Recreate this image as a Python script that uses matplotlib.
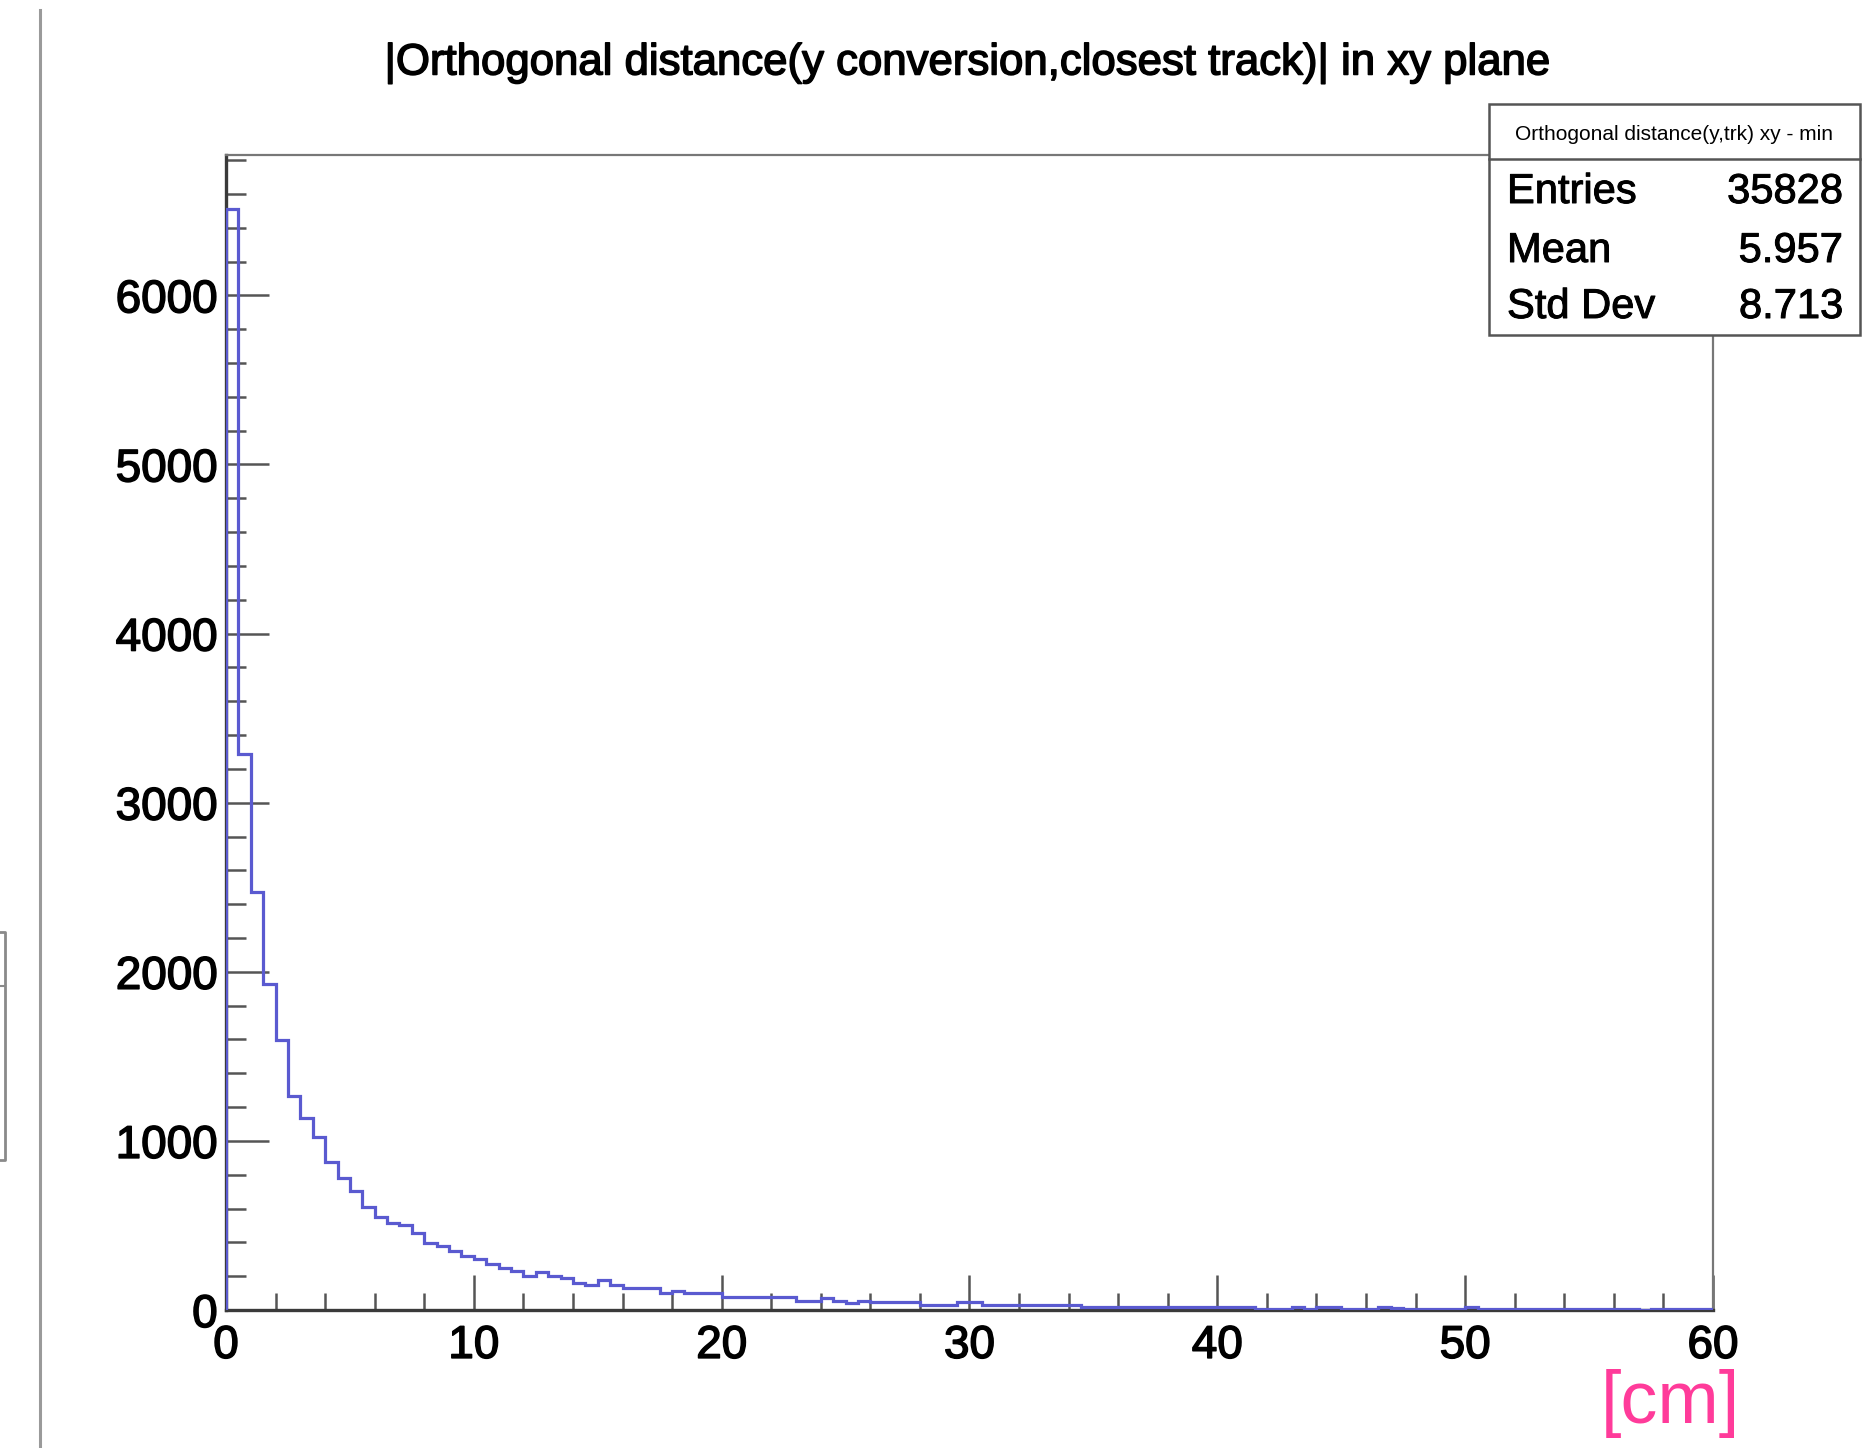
import numpy as np
import matplotlib
matplotlib.use("Agg")
import matplotlib.pyplot as plt
import matplotlib.patheffects as pe
from matplotlib.lines import Line2D
from matplotlib.patches import Rectangle

# ---------------- data ----------------
title = "|Orthogonal distance(y conversion,closest track)| in xy plane"
x_range = (0.0, 60.0)
n_bins = 120
counts = [6510, 3290, 2470, 1930, 1595, 1265, 1135, 1025, 875, 778,
          703, 612, 551, 516, 500, 454, 395, 376, 346, 318,
          299, 273, 247, 228, 204, 224, 204, 188, 159, 145,
          179, 149, 131, 131, 131, 99, 115, 102, 102, 102,
          76, 76, 76, 76, 76, 76, 56, 56, 72, 56,
          40, 56, 48, 48, 48, 48, 27, 27, 27, 48,
          48, 31, 31, 31, 31, 31, 31, 31, 31, 17,
          17, 17, 17, 17, 17, 17, 17, 17, 17, 17,
          17, 17, 17, 3, 3, 3, 20, 3, 18, 18,
          3, 3, 3, 18, 10, 5, 5, 5, 5, 5,
          15, 5, 5, 5, 5, 5, 5, 5, 5, 5,
          5, 5, 5, 5, 0, 5, 5, 5, 5, 5]
x_ticks = [0, 10, 20, 30, 40, 50, 60]
y_ticks = [0, 1000, 2000, 3000, 4000, 5000, 6000]
stats_title = "Orthogonal distance(y,trk) xy - min"
stats_labels = ["Entries", "Mean", "Std Dev"]
stats_values = ["35828", "5.957", "8.713"]
unit_label = "[cm]"

# ---------------- figure ----------------
W, H = 1865, 1448
DPI = 100
plt.rcParams['font.family'] = ['Liberation Sans', 'DejaVu Sans']
fig = plt.figure(figsize=(W / DPI, H / DPI), dpi=DPI, facecolor='white')

def fx(px):
    return px / W

def fy(py):
    return 1 - py / H

heavy = [pe.withStroke(linewidth=1.1, foreground='black')]
medium = [pe.withStroke(linewidth=0.7, foreground='black')]

ax_l, ax_r, ax_t, ax_b = 226, 1713, 155, 1310
ax = fig.add_axes([fx(ax_l), fy(ax_b), fx(ax_r - ax_l), (ax_b - ax_t) / H])

edges = np.linspace(x_range[0], x_range[1], n_bins + 1)
ax.stairs(counts, edges, color='#5a5ad0', linewidth=2.3, zorder=3)

ax.set_xlim(*x_range)
ax.set_ylim(0, 6830)
ax.set_xticks(x_ticks)
ax.set_xticklabels([str(t) for t in x_ticks])
ax.set_yticks(y_ticks)
ax.set_yticklabels([str(t) for t in y_ticks])
ax.set_xticks(np.arange(0, 61, 2), minor=True)
ax.set_yticks(np.arange(0, 6801, 200), minor=True)

ax.tick_params(axis='both', which='both', direction='in', colors='#555555',
               labelcolor='black', labelsize=33, width=1.8)
ax.tick_params(axis='y', which='major', length=31, pad=6)
ax.tick_params(axis='y', which='minor', length=14.5)
ax.tick_params(axis='x', which='major', length=25, pad=10)
ax.tick_params(axis='x', which='minor', length=12)
for lab in ax.get_xticklabels() + ax.get_yticklabels():
    lab.set_path_effects(heavy)

for s in ['left', 'bottom']:
    ax.spines[s].set_color('#3a3a3a')
    ax.spines[s].set_linewidth(2.4)
for s in ['top', 'right']:
    ax.spines[s].set_color('#777777')
    ax.spines[s].set_linewidth(1.6)

# title
fig.text(fx(968), fy(63), title, ha='center', va='center', fontsize=31.5,
         color='black', path_effects=heavy)

# stats box
bl, br, bt, bb = 1489, 1860, 104, 335
fig.patches.append(Rectangle((fx(bl), fy(bb)), fx(br - bl), (bb - bt) / H,
                             transform=fig.transFigure, facecolor='white',
                             edgecolor='#555555', linewidth=1.8, zorder=5))
fig.lines.append(Line2D([fx(bl), fx(br)], [fy(159), fy(159)], transform=fig.transFigure,
                        color='#555555', linewidth=1.8, zorder=6))
fig.text(fx((bl + br) / 2), fy(134), stats_title, ha='center', va='center',
         fontsize=15, zorder=7)
row_y = [192, 251, 307]
for lab, val, yy in zip(stats_labels, stats_values, row_y):
    fig.text(fx(1507), fy(yy), lab, ha='left', va='center', fontsize=30, zorder=7,
             path_effects=medium)
    fig.text(fx(1843), fy(yy), val, ha='right', va='center', fontsize=30, zorder=7,
             path_effects=medium)

# unit label
fig.text(fx(1670), fy(1404), unit_label, ha='center', va='center', fontsize=53,
         color='#ff3b9a')

# screenshot artifacts on the left edge
fig.lines.append(Line2D([fx(40), fx(40)], [fy(10), fy(1448)], transform=fig.transFigure,
                        color='#9a9a9a', linewidth=2.2))
fig.lines.append(Line2D([fx(0), fx(5), fx(5), fx(0)], [fy(932), fy(932), fy(1160), fy(1160)],
                        transform=fig.transFigure, color='#8a8a8a', linewidth=2.0))
fig.lines.append(Line2D([fx(0), fx(5)], [fy(986), fy(986)], transform=fig.transFigure,
                        color='#8a8a8a', linewidth=1.5))

fig.savefig('out.png', dpi=DPI, facecolor='white')
